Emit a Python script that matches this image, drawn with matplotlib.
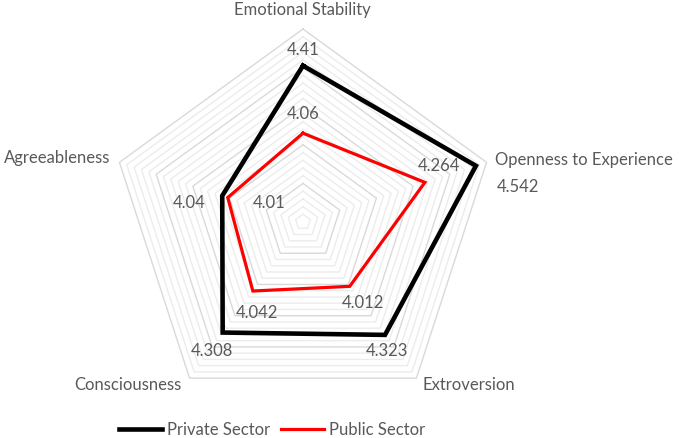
import numpy as np
import matplotlib
matplotlib.use("Agg")
import matplotlib.pyplot as plt

plt.rcParams['font.family'] = ['Lato', 'DejaVu Sans']

categories = ["Emotional Stability", "Openness to Experience", "Extroversion",
              "Consciousness", "Agreeableness"]
private = [4.41, 4.542, 4.323, 4.308, 4.04]
public = [4.06, 4.264, 4.012, 4.042, 4.01]
private_labels = ["4.41", "4.542", "4.323", "4.308", "4.04"]
public_labels = ["4.06", "4.264", "4.012", "4.042", "4.01"]

r_min, r_max = 3.6, 4.6
minor_step = 0.04
major_step = 0.2

txt_color = "#595959"
fs = 12

n = len(categories)
theta = np.linspace(0, 2 * np.pi, n, endpoint=False)
theta_closed = np.append(theta, theta[0])

fig = plt.figure(figsize=(6.81, 4.38), dpi=100)
ax = fig.add_axes([110 / 681, 23 / 438, 386 / 681, 386 / 438], projection="polar")
ax.set_theta_zero_location("N")
ax.set_theta_direction(-1)
ax.set_ylim(r_min, r_max)
ax.grid(False)
ax.spines["polar"].set_visible(False)
ax.set_xticks([])
ax.set_yticks([])
ax.patch.set_alpha(0)

# pentagon gridlines
levels = np.round(np.arange(r_min + minor_step, r_max + 1e-9, minor_step), 4)
for lv in levels:
    is_major = abs((lv - r_min) / major_step - round((lv - r_min) / major_step)) < 1e-6
    ax.plot(theta_closed, [lv] * (n + 1), color="#d9d9d9" if is_major else "#ececec",
            lw=1.0, zorder=1, clip_on=False)

ax.plot(theta_closed, private + private[:1], color="black", lw=3.3, zorder=3,
        label="Private Sector", clip_on=False, solid_joinstyle="miter")
ax.plot(theta_closed, public + public[:1], color="#ff0000", lw=2.3, zorder=4,
        label="Public Sector", clip_on=False, solid_joinstyle="miter")

# data labels (offsets in pixels)
priv_off = [(0, 16), (42, -21), (2, -16), (-11, -18), (-33, -7)]
pub_off = [(0, 19), (14, 16), (13, -17), (4, -22), (41, -5)]
for t, v, s, o in zip(theta, private, private_labels, priv_off):
    ax.annotate(s, (t, v), xytext=o, textcoords="offset pixels", ha="center",
                va="center", fontsize=fs, color=txt_color, zorder=5)
for t, v, s, o in zip(theta, public, public_labels, pub_off):
    ax.annotate(s, (t, v), xytext=o, textcoords="offset pixels", ha="center",
                va="center", fontsize=fs, color=txt_color, zorder=5)

# category labels
cat_pos = [(302, 10, "center"), (495, 160, "left"), (469, 385, "center"),
           (128, 385, "center"), (57, 158, "center")]
for name, (x, y, ha) in zip(categories, cat_pos):
    fig.text(x / 681, 1 - y / 438, name, ha=ha, va="center", fontsize=fs,
             color=txt_color)

fig.legend(loc="center", bbox_to_anchor=(272 / 681, 1 - 430 / 438), ncol=2,
           frameon=False, fontsize=fs, handlelength=2.6, handletextpad=0.3,
           columnspacing=0.6, labelcolor=txt_color)

fig.savefig("out.png", dpi=100)
